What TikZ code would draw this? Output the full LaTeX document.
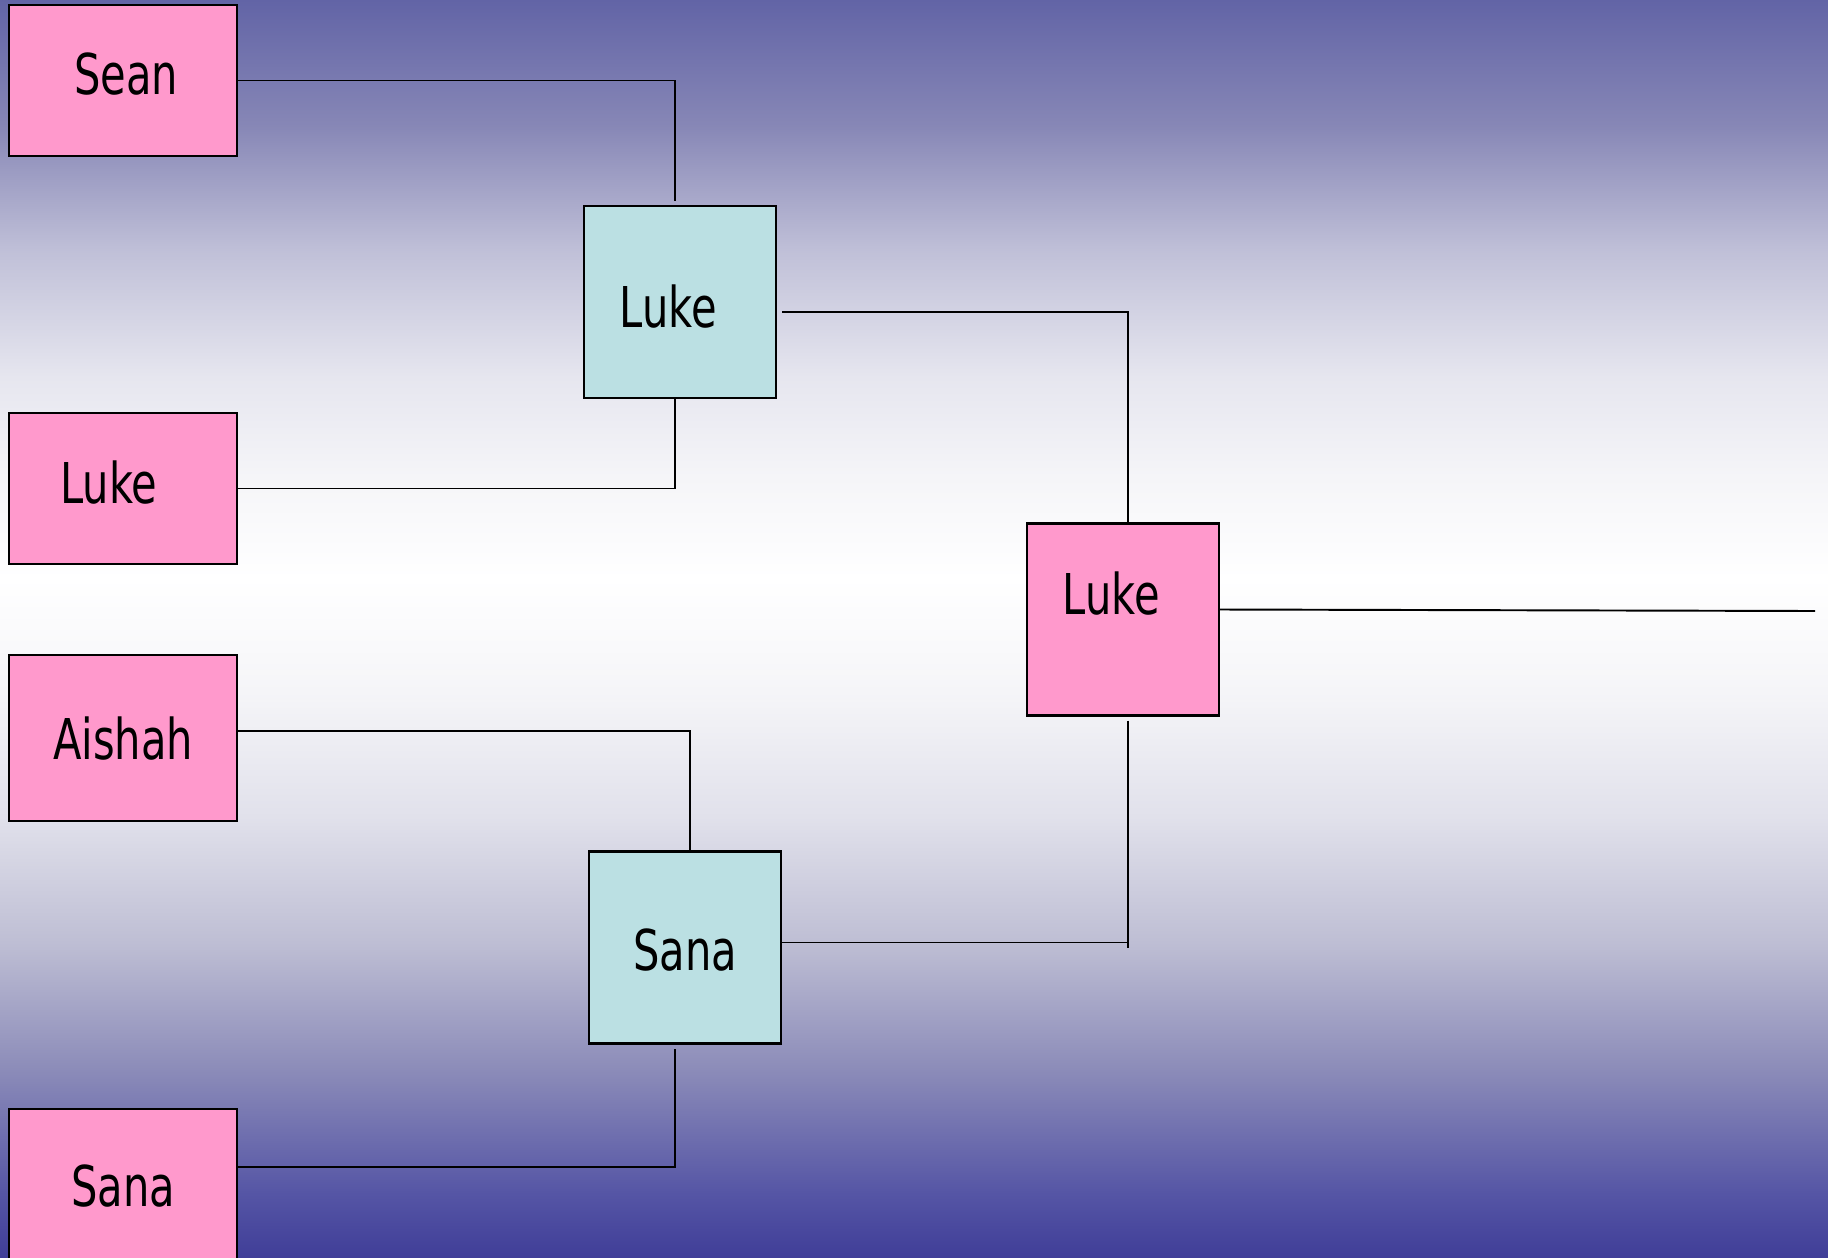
\documentclass[tikz,border=0pt]{standalone}
\usepackage{fontspec}
\setmainfont{DejaVu Sans}[FakeStretch=0.74]
\usetikzlibrary{calc}
\definecolor{bracketpink}{HTML}{FF99CC}
\definecolor{bracketcyan}{HTML}{BBE0E3}
% sky: blue at the top, white a bit above the middle, darker blue at the bottom
\pgfdeclareverticalshading{bracketsky}{100bp}{
   rgb(0bp)=(0.251,0.243,0.596);
   rgb(25bp)=(0.251,0.243,0.596);
   rgb(27.5bp)=(0.333,0.333,0.647);
   rgb(32.5bp)=(0.549,0.549,0.725);
   rgb(37.5bp)=(0.745,0.745,0.831);
   rgb(42.5bp)=(0.882,0.882,0.922);
   rgb(47.5bp)=(0.961,0.961,0.973);
   rgb(52bp)=(1,1,1);
   rgb(56bp)=(0.961,0.961,0.973);
   rgb(60bp)=(0.902,0.902,0.937);
   rgb(65bp)=(0.753,0.753,0.847);
   rgb(70bp)=(0.529,0.529,0.714);
   rgb(75bp)=(0.384,0.392,0.651);
   rgb(100bp)=(0.384,0.392,0.651)}
\tikzset{
    player/.style={
           rectangle,
           draw=black, line width=0.7pt,
           fill=bracketpink,
           inner sep=0pt,
           minimum width=22.8mm,
           minimum height=15.1mm,
           },
    winner/.style={
           player,
           fill=bracketcyan,
           minimum width=19.2mm,
           minimum height=19.2mm,
           },
    link/.style={draw=black, line width=0.55pt},
}

\begin{document}
\begin{tikzpicture}[x=0.1mm, y=-0.1mm, font=\fontsize{16pt}{19pt}\selectfont]

   % background
   \useasboundingbox (0,0) rectangle (1828,1257);
   \shade[shading=bracketsky] (0,0) rectangle (1828,1257);

   % first round (pink boxes on the left)
   % the names sit a little off the box centres, so they are labels
   \node[player, label={[xshift=0.3mm,yshift=0.64mm]center:Sean}] (SEAN) at (123,80.5) {};
   \node[player, label={[xshift=-1.4mm,yshift=0.64mm]center:Luke}] (LUKEA) at (123,488.5) {};
   \node[player, minimum height=16.6mm,
      label={[yshift=-0.1mm]center:Aishah}] (AISHAH) at (123,738) {};
   \node[player, minimum height=16.6mm,
      label={[yshift=0.6mm]center:Sana}] (SANAA) at (123,1192) {};

   % second round (cyan boxes)
   \node[winner, label={[xshift=-1.17mm,yshift=-0.47mm]center:Luke}] (LUKEB) at (680,302) {};
   \node[winner, label={[yshift=-0.23mm]center:Sana}] (SANAB) at (685,947.5) {};

   % final
   \node[winner, fill=bracketpink,
      label={[xshift=-1.17mm,yshift=2.62mm]center:Luke}] (LUKEC) at (1123,619.5) {};

   % free ends of the lines
   \coordinate (TAIL) at ($(LUKEC.south |- SANAB.east)+(0.5mm,0)$);
   \coordinate (CHAMP) at (1815,611);

   % draw the bracket lines
   \draw[link] (SEAN.east) -| ([xshift=-0.5mm,yshift=0.4mm]LUKEB.north);
   \draw[link] (LUKEA.east) -| ([xshift=-0.5mm]LUKEB.south);
   \draw[link] ([yshift=0.7mm]AISHAH.east) -| ([xshift=0.5mm]SANAB.north);
   \draw[link] ([yshift=-5.9mm]SANAA.north east) -| ([xshift=-1mm,yshift=-0.4mm]SANAB.south);
   \draw[link] ([xshift=0.5mm,yshift=-1mm]LUKEB.east) -| ([xshift=0.5mm]LUKEC.north);
   \draw[link] ([xshift=0.5mm,yshift=-0.4mm]LUKEC.south) -- (TAIL);
   \draw[link] ([yshift=0.5mm]SANAB.east) -| (TAIL);
   \draw[link] ([yshift=1mm]LUKEC.east) -- (CHAMP);
\end{tikzpicture}
\end{document}
